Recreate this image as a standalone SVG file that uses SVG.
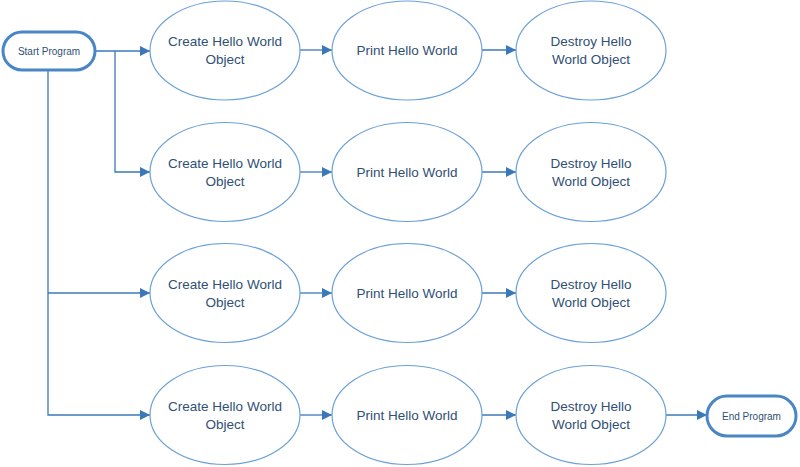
<svg xmlns="http://www.w3.org/2000/svg" width="800" height="467" viewBox="0 0 800 467">
<defs>
<marker id="arr" viewBox="0 0 10 10" refX="10" refY="5" markerWidth="10" markerHeight="10" markerUnits="userSpaceOnUse" orient="auto">
<path d="M0,0 L10,5 L0,10 Z" fill="#3b78b8"/>
</marker>
<style>
.ell{fill:#fff;stroke:#6aa0d8;stroke-width:1.2}
.term{fill:#fff;stroke:#4a86c6;stroke-width:3}
.t{font-family:"Liberation Sans",Arial,sans-serif;font-size:13.5px;fill:#2f5075;text-anchor:middle}
.ts{font-family:"Liberation Sans",Arial,sans-serif;font-size:10px;fill:#2f5075;text-anchor:middle}
.c{fill:none;stroke:#3b78b8;stroke-width:1.3}
</style>
</defs>
<rect width="800" height="467" fill="#fff"/>
<g id="connectors">
<path class="c" d="M95,51 H150" marker-end="url(#arr)"/>
<path class="c" d="M115,51 V172 H150" marker-end="url(#arr)"/>
<path class="c" d="M48,70 V415 H150" marker-end="url(#arr)"/>
<path class="c" d="M48,293 H150" marker-end="url(#arr)"/>
<path class="c" d="M300,50 H332" marker-end="url(#arr)"/>
<path class="c" d="M482,50 H516" marker-end="url(#arr)"/>
<path class="c" d="M300,172 H332" marker-end="url(#arr)"/>
<path class="c" d="M482,172 H516" marker-end="url(#arr)"/>
<path class="c" d="M300,293 H332" marker-end="url(#arr)"/>
<path class="c" d="M482,293 H516" marker-end="url(#arr)"/>
<path class="c" d="M300,415 H332" marker-end="url(#arr)"/>
<path class="c" d="M482,415 H516" marker-end="url(#arr)"/>
<path class="c" d="M666,415 H707" marker-end="url(#arr)"/>
</g>
<g id="start"><rect class="term" x="3" y="32" width="92" height="38" rx="19"/><text class="ts" x="49" y="55">Start Program</text></g>
<g id="end"><rect class="term" x="707" y="396" width="89" height="40" rx="20"/><text class="ts" x="751.5" y="420">End Program</text></g>

<g id="create1"><ellipse class="ell" cx="225" cy="50.5" rx="75" ry="49.5"/><text class="t" x="225" y="46">Create Hello World</text><text class="t" x="225" y="64">Object</text></g>
<g id="print1"><ellipse class="ell" cx="407" cy="50.5" rx="75" ry="49.5"/><text class="t" x="407" y="55">Print Hello World</text></g>
<g id="destroy1"><ellipse class="ell" cx="591" cy="50.5" rx="75" ry="49.5"/><text class="t" x="591" y="46">Destroy Hello</text><text class="t" x="591" y="64">World Object</text></g>

<g id="create2"><ellipse class="ell" cx="225" cy="172" rx="75" ry="49.5"/><text class="t" x="225" y="167.5">Create Hello World</text><text class="t" x="225" y="185.5">Object</text></g>
<g id="print2"><ellipse class="ell" cx="407" cy="172" rx="75" ry="49.5"/><text class="t" x="407" y="176.5">Print Hello World</text></g>
<g id="destroy2"><ellipse class="ell" cx="591" cy="172" rx="75" ry="49.5"/><text class="t" x="591" y="167.5">Destroy Hello</text><text class="t" x="591" y="185.5">World Object</text></g>

<g id="create3"><ellipse class="ell" cx="225" cy="293" rx="75" ry="49.5"/><text class="t" x="225" y="288.5">Create Hello World</text><text class="t" x="225" y="306.5">Object</text></g>
<g id="print3"><ellipse class="ell" cx="407" cy="293" rx="75" ry="49.5"/><text class="t" x="407" y="297.5">Print Hello World</text></g>
<g id="destroy3"><ellipse class="ell" cx="591" cy="293" rx="75" ry="49.5"/><text class="t" x="591" y="288.5">Destroy Hello</text><text class="t" x="591" y="306.5">World Object</text></g>

<g id="create4"><ellipse class="ell" cx="225" cy="415" rx="75" ry="49.5"/><text class="t" x="225" y="410.5">Create Hello World</text><text class="t" x="225" y="428.5">Object</text></g>
<g id="print4"><ellipse class="ell" cx="407" cy="415" rx="75" ry="49.5"/><text class="t" x="407" y="419.5">Print Hello World</text></g>
<g id="destroy4"><ellipse class="ell" cx="591" cy="415" rx="75" ry="49.5"/><text class="t" x="591" y="410.5">Destroy Hello</text><text class="t" x="591" y="428.5">World Object</text></g>
</svg>
